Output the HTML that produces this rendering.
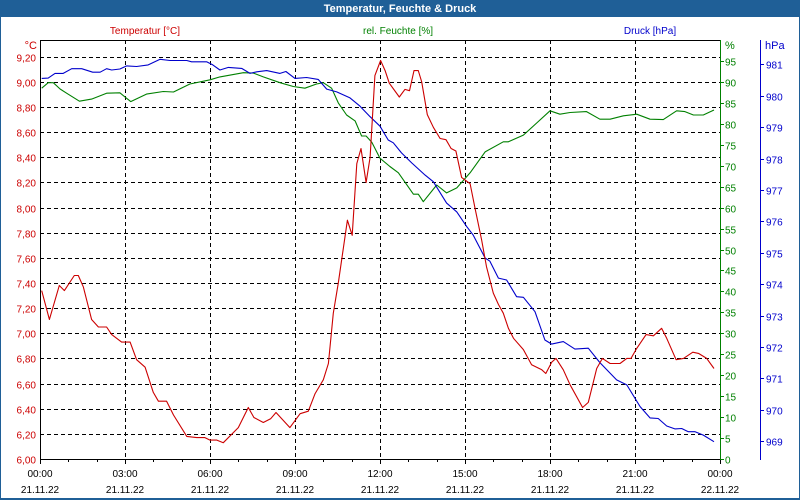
<!DOCTYPE html>
<html><head><meta charset="utf-8"><style>
html,body{margin:0;padding:0;background:#fff}
svg{display:block;font-family:"Liberation Sans",sans-serif}
</style></head><body>
<svg id="c" width="800" height="500" viewBox="0 0 800 500">
<rect x="0" y="0" width="800" height="500" fill="#1f5f97"/>
<rect x="1" y="17" width="798" height="481" fill="#ffffff"/>
<text x="400" y="12" text-anchor="middle" font-size="11" font-weight="bold" fill="#ffffff">Temperatur, Feuchte &amp; Druck</text>
<text x="145" y="34" text-anchor="middle" font-size="10" fill="#cc0000">Temperatur [°C]</text>
<text x="398" y="34" text-anchor="middle" font-size="10" fill="#008000">rel. Feuchte [%]</text>
<text x="650" y="34" text-anchor="middle" font-size="10" fill="#0000cc">Druck [hPa]</text>
<text x="37" y="49" text-anchor="end" font-size="11" fill="#cc0000">°C</text>
<text x="725" y="49" font-size="11" fill="#008000">%</text>
<text x="765" y="49" font-size="11" fill="#0000cc">hPa</text>
<g id="grid"></g>
<g id="axes"></g>
<g id="series"></g>
</svg>
<script>
const tempHours=[0.06,0.33,0.68,0.86,1.21,1.35,1.53,1.82,2.06,2.35,2.53,2.88,3.18,3.41,3.71,4.0,4.18,4.47,4.71,5.18,5.53,5.82,6.0,6.24,6.47,7.0,7.35,7.55,7.88,8.14,8.33,8.82,9.18,9.47,9.71,10.0,10.18,10.35,10.53,10.85,11.02,11.18,11.33,11.51,11.65,11.82,12.02,12.18,12.33,12.68,12.88,13.04,13.2,13.35,13.47,13.67,13.88,14.12,14.33,14.51,14.68,14.88,15.18,15.35,15.59,15.76,16.0,16.18,16.35,16.53,16.71,17.06,17.35,17.71,17.85,18.06,18.21,18.47,18.71,19.15,19.35,19.65,19.85,20.12,20.47,20.71,20.86,21.06,21.39,21.65,21.94,22.12,22.45,22.71,23.04,23.24,23.53,23.79];
const tempValues=[7.34,7.11,7.38,7.34,7.46,7.46,7.37,7.11,7.05,7.05,6.99,6.93,6.93,6.79,6.73,6.53,6.46,6.46,6.35,6.18,6.17,6.17,6.15,6.15,6.13,6.25,6.41,6.33,6.29,6.32,6.37,6.25,6.36,6.38,6.52,6.63,6.76,7.16,7.40,7.90,7.78,8.35,8.47,8.20,8.40,9.05,9.17,9.09,8.99,8.88,8.94,8.93,9.09,9.09,9.0,8.74,8.64,8.55,8.54,8.47,8.45,8.24,8.19,8.0,7.74,7.53,7.32,7.23,7.16,7.04,6.96,6.87,6.75,6.71,6.68,6.77,6.80,6.71,6.59,6.41,6.45,6.72,6.80,6.76,6.76,6.80,6.80,6.88,6.99,6.98,7.04,6.96,6.79,6.80,6.85,6.84,6.80,6.72];
const humHours=[0.06,0.29,0.47,0.71,0.94,1.39,1.82,2.35,2.82,3.2,3.76,4.35,4.71,5.29,6.0,6.35,7.18,7.53,7.88,8.47,8.94,9.35,9.76,10.0,10.29,10.53,10.82,11.12,11.35,11.51,11.71,12.0,12.35,12.65,13.18,13.35,13.53,14.0,14.35,14.71,15.18,15.71,16.35,16.53,17.06,17.53,18.0,18.35,18.71,19.29,19.76,20.12,20.59,21.06,21.53,22.0,22.47,22.76,23.06,23.41,23.79];
const humValues=[88.5,89.8,89.8,88.3,87.3,85.4,85.9,87.3,87.4,85.3,87.1,87.7,87.6,89.5,90.5,91.2,92.2,92.1,91.2,89.8,88.9,88.5,89.5,89.8,88.5,85.0,82.1,80.7,77.1,77.1,75.6,71.8,69.8,68.3,63.2,63.2,61.4,65.4,63.5,64.7,68.3,73.3,75.7,75.7,77.3,80.2,83.1,82.3,82.7,82.9,81.1,81.1,81.9,82.3,81.1,81.0,83.1,82.9,82.1,82.1,83.3];
const presHours=[0.06,0.29,0.53,0.82,1.12,1.47,1.86,2.12,2.35,2.53,2.82,3.06,3.41,3.82,4.24,4.59,5.18,5.35,5.88,6.1,6.35,6.65,7.12,7.41,7.65,8.0,8.47,8.68,9.0,9.41,9.82,10.12,10.47,10.94,11.29,11.65,12.0,12.29,12.47,12.76,13.12,13.59,13.88,14.35,14.71,15.06,15.29,15.71,15.88,16.18,16.47,16.82,17.06,17.47,17.82,18.06,18.47,18.88,19.35,19.76,20.35,20.71,21.18,21.53,21.82,22.12,22.41,22.65,22.88,23.12,23.41,23.79];
const presValues=[980.55,980.56,980.71,980.71,980.86,980.86,980.75,980.75,980.86,980.82,980.85,980.95,980.93,980.98,981.16,981.12,981.12,981.08,981.08,980.98,980.82,980.90,980.87,980.71,980.76,980.80,980.71,980.77,980.55,980.58,980.52,980.21,980.12,979.93,979.67,979.33,979.03,978.59,978.5,978.18,977.86,977.47,977.26,976.58,976.3,975.83,975.56,974.83,974.73,974.19,974.13,973.6,973.58,973.12,972.22,972.09,972.17,971.93,971.96,971.5,970.95,970.79,970.1,969.74,969.72,969.48,969.39,969.4,969.3,969.3,969.19,968.98];
const tempTicks=["6,00","6,20","6,40","6,60","6,80","7,00","7,20","7,40","7,60","7,80","8,00","8,20","8,40","8,60","8,80","9,00","9,20"];
const humTicks=[0,5,10,15,20,25,30,35,40,45,50,55,60,65,70,75,80,85,90,95];
const presTicks=[969,970,971,972,973,974,975,976,977,978,979,980,981];
const timeLabels=["00:00","03:00","06:00","09:00","12:00","15:00","18:00","21:00","00:00"];
const dateLabels=["21.11.22","21.11.22","21.11.22","21.11.22","21.11.22","21.11.22","21.11.22","21.11.22","22.11.22"];

const X0=40,X1=720,Y0=459,Y1=40;
const xs=h=>X0+h*(X1-X0)/24;
const yT=v=>Y0-(v-6)*(Y0-Y1)/(10/3);
const yH=v=>Y0-v*(Y0-Y1)/100;
const yP=v=>Y0-(v-968.43)*31.4;
const NS="http://www.w3.org/2000/svg";
function mk(tag,parent,attrs){const e=document.createElementNS(NS,tag);for(const k in attrs)e.setAttribute(k,attrs[k]);parent.appendChild(e);return e;}
const grid=document.getElementById('grid'),axes=document.getElementById('axes'),series=document.getElementById('series');

mk('rect',grid,{x:X0,y:Y1,width:X1-X0,height:Y0-Y1,fill:'#ffffff'});
tempTicks.forEach((t,i)=>{
  const v=6+i*0.2,y=Math.round(yT(v))+0.5;
  if(i>0){const l=mk('line',grid,{x1:X0,x2:X1,y1:y,y2:y,stroke:'#000','stroke-dasharray':'4,3','stroke-width':1});
  
  }
  const tx=mk('text',axes,{x:36,y:y+4,'text-anchor':'end','font-size':10,fill:'#cc0000'});
  tx.textContent=t;
  
  
});
for(let h=3;h<24;h+=3){
  const x=Math.round(xs(h))+0.5;
  const l=mk('line',grid,{x1:x,x2:x,y1:Y1,y2:Y0,stroke:'#000','stroke-dasharray':'4,3','stroke-width':1});
  
  
}
for(let h=0;h<=24;h++){
  const x=Math.round(xs(h))+0.5;
  const l=mk('line',axes,{x1:x,x2:x,y1:Y0,y2:Y0+(h%3==0?5:3),stroke:'#000'});
  
  
}
timeLabels.forEach((t,i)=>{
  const x=xs(i*3);
  const a=mk('text',axes,{x:x,y:477,'text-anchor':'middle','font-size':10,fill:'#000'});
  a.textContent=t;
  
  
  const b=mk('text',axes,{x:x,y:493,'text-anchor':'middle','font-size':10,fill:'#000'});
  b.textContent=dateLabels[i];
  
  
});
let ax=mk('line',axes,{x1:X0+0.5,x2:X0+0.5,y1:Y1,y2:Y0+1,stroke:'#000'});


ax=mk('line',axes,{x1:X0,x2:X1,y1:Y0+0.5,y2:Y0+0.5,stroke:'#000'});


ax=mk('line',axes,{x1:X0,x2:X1,y1:Y1+0.5,y2:Y1+0.5,stroke:'#000'});


ax=mk('line',axes,{x1:X1+0.5,x2:X1+0.5,y1:Y1,y2:Y0+1,stroke:'#008000'});


ax=mk('line',axes,{x1:760.5,x2:760.5,y1:Y1,y2:Y0+1,stroke:'#0000cc'});


humTicks.forEach(v=>{
  const y=Math.round(yH(v))+0.5;
  const l=mk('line',axes,{x1:X1,x2:X1+4,y1:y,y2:y,stroke:'#008000'});
  
  
  const t=mk('text',axes,{x:725,y:y+4,'font-size':10,fill:'#008000'});
  t.textContent=v;
  
  
});
presTicks.forEach(v=>{
  const y=Math.round(yP(v))+0.5;
  const l=mk('line',axes,{x1:760,x2:764,y1:y,y2:y,stroke:'#0000cc'});
  
  
  const t=mk('text',axes,{x:766,y:y+4,'font-size':10,fill:'#0000cc'});
  t.textContent=v;
  
  
});
function line(hours,vals,yf,color,name){
  const d=hours.map((h,i)=>(i?'L':'M')+xs(h).toFixed(1)+','+yf(vals[i]).toFixed(1)).join('');
  const p=mk('path',series,{d:d,fill:'none',stroke:color,'stroke-width':1.1,'stroke-linejoin':'round'});
  
  
}
line(humHours,humValues,yH,'#008000','humidity-line');
line(presHours,presValues,yP,'#0000cc','pressure-line');
line(tempHours,tempValues,yT,'#cc0000','temperature-line');
</script>
</body></html>
